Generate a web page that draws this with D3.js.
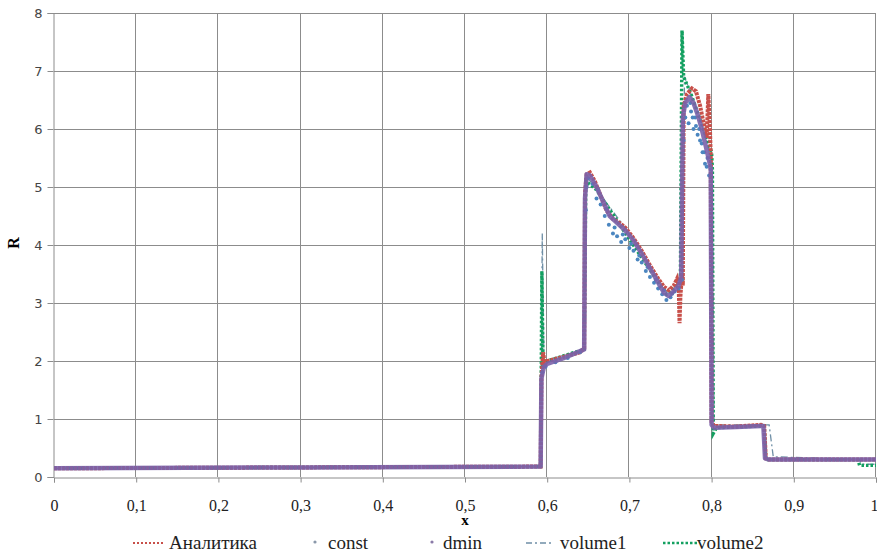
<!DOCTYPE html>
<html>
<head>
<meta charset="utf-8">
<script src="https://cdn.jsdelivr.net/npm/d3@7"></script>
<style>
  body { margin: 0; background: #fff; }
  svg { display: block; }
  .serif { font-family: 'Liberation Serif', 'Times New Roman', 'DejaVu Serif', serif; }
</style>
</head>
<body>
<div id="chart"></div>
<script>
// ---- data ----
var xTicks = [0, 0.1, 0.2, 0.3, 0.4, 0.5, 0.6, 0.7, 0.8, 0.9, 1];
var xTickLabels = ['0', '0,1', '0,2', '0,3', '0,4', '0,5', '0,6', '0,7', '0,8', '0,9', '1'];
var yTicks = [0, 1, 2, 3, 4, 5, 6, 7, 8];

var analytic = [
	[0, 0.15], [0.3, 0.165], [0.592, 0.18], [0.593, 1.7], [0.595, 2.15], [0.597, 1.95], [0.6, 2.0],
	[0.62, 2.07], [0.64, 2.15], [0.645, 2.22], [0.646, 4.9], [0.648, 5.22], [0.652, 5.25], [0.658, 5.1],
	[0.665, 4.85], [0.672, 4.6], [0.68, 4.45], [0.688, 4.38], [0.695, 4.3], [0.705, 4.12], [0.715, 3.9],
	[0.725, 3.65], [0.735, 3.42], [0.742, 3.28], [0.748, 3.22], [0.754, 3.3], [0.758, 3.42], [0.76, 3.3],
	[0.761, 2.65], [0.762, 3.1], [0.764, 3.5], [0.765, 3.3], [0.766, 6.4], [0.77, 6.6], [0.776, 6.7],
	[0.781, 6.65], [0.786, 6.4], [0.791, 6.05], [0.794, 5.85], [0.796, 6.6], [0.798, 6.0], [0.799, 5.5],
	[0.8, 0.95], [0.803, 0.88], [0.83, 0.87], [0.86, 0.9], [0.864, 0.88], [0.866, 0.32], [0.87, 0.3], [1, 0.3]
];

var constPts = [
	[0.594, 1.8], [0.598, 1.9], [0.61, 1.98], [0.625, 2.05], [0.64, 2.15], [0.647, 4.6], [0.648, 5.0],
	[0.65, 5.15], [0.655, 5.05], [0.66, 4.8], [0.665, 4.7], [0.67, 4.5], [0.675, 4.35], [0.68, 4.2],
	[0.685, 4.15], [0.69, 4.05], [0.695, 4.1], [0.7, 3.95], [0.705, 3.9], [0.71, 3.75], [0.715, 3.7],
	[0.72, 3.55], [0.725, 3.45], [0.73, 3.35], [0.735, 3.25], [0.74, 3.15], [0.745, 3.05], [0.75, 3.1],
	[0.755, 3.2], [0.76, 3.25], [0.764, 3.4], [0.766, 5.8], [0.768, 6.2], [0.77, 6.4], [0.772, 6.1],
	[0.775, 6.3], [0.778, 6.0], [0.78, 6.2], [0.783, 5.9], [0.786, 5.8], [0.789, 5.6], [0.792, 5.4],
	[0.795, 5.5], [0.797, 5.2], [0.799, 5.3], [0.662, 4.95], [0.672, 4.62], [0.682, 4.3], [0.692, 4.18],
	[0.702, 4.02], [0.712, 3.82], [0.722, 3.62], [0.732, 3.4], [0.742, 3.22], [0.752, 3.16], [0.774, 6.45],
	[0.777, 6.2], [0.781, 6.05], [0.785, 6.0], [0.788, 5.75], [0.791, 5.6], [0.794, 5.35]
];

var dmin = [
	[0, 0.15], [0.3, 0.165], [0.592, 0.18], [0.593, 1.7], [0.596, 1.9], [0.6, 1.95], [0.62, 2.05],
	[0.645, 2.2], [0.646, 4.8], [0.648, 5.22], [0.652, 5.2], [0.66, 5.0], [0.668, 4.75], [0.676, 4.5],
	[0.685, 4.38], [0.695, 4.25], [0.705, 4.08], [0.715, 3.85], [0.725, 3.6], [0.735, 3.35], [0.742, 3.18],
	[0.748, 3.12], [0.755, 3.22], [0.76, 3.3], [0.763, 3.45], [0.765, 6.2], [0.768, 6.45], [0.773, 6.55],
	[0.778, 6.45], [0.783, 6.25], [0.788, 6.0], [0.793, 5.7], [0.797, 5.45], [0.799, 5.3], [0.8, 0.9],
	[0.803, 0.85], [0.83, 0.86], [0.86, 0.88], [0.863, 0.88], [0.865, 0.32], [0.87, 0.3], [1, 0.3]
];

var volume1 = [
	[0, 0.15], [0.592, 0.18], [0.594, 4.2], [0.596, 2.0], [0.645, 2.2], [0.647, 5.2], [0.7, 4.2],
	[0.745, 3.2], [0.765, 3.4], [0.767, 6.9], [0.775, 6.6], [0.79, 6.0], [0.801, 5.4], [0.803, 0.9],
	[0.87, 0.9], [0.875, 0.35], [0.98, 0.3], [0.982, 0.22], [1, 0.22]
];

var volume2 = [
	[0, 0.15], [0.592, 0.18], [0.5935, 3.55], [0.595, 1.9], [0.6, 2.0], [0.645, 2.2], [0.647, 5.1],
	[0.66, 4.95], [0.7, 4.1], [0.745, 3.15], [0.762, 3.35], [0.764, 7.7], [0.766, 6.9], [0.775, 6.6],
	[0.79, 6.0], [0.8, 5.6], [0.801, 5.3], [0.802, 0.75], [0.806, 0.85], [0.864, 0.88], [0.866, 0.3],
	[0.978, 0.3], [0.98, 0.2], [1, 0.2]
];

// ---- layout ----
var W = 877, H = 554;
var M = { left: 54, right: 1, top: 13, bottom: 77 };

var svg = d3.select('#chart').append('svg').attr('width', W).attr('height', H);

var x = d3.scaleLinear().domain([0, 1]).range([M.left, W - M.right]);
var y = d3.scaleLinear().domain([0, 8]).range([H - M.bottom, M.top]);

// grid
var grid = svg.append('g').attr('stroke', '#8c8c8c').attr('stroke-width', 1);
grid.selectAll('line.h').data(yTicks.slice(1)).enter().append('line')
	.attr('x1', x(0)).attr('x2', x(1))
	.attr('y1', (d) => Math.round(y(d)) + 0.5).attr('y2', (d) => Math.round(y(d)) + 0.5);
grid.selectAll('line.v').data(xTicks.slice(1)).enter().append('line')
	.attr('y1', y(0)).attr('y2', y(8))
	.attr('x1', (d) => Math.round(x(d)) - 0.5).attr('x2', (d) => Math.round(x(d)) - 0.5);

// axes
var xAxis = d3.axisBottom(x).tickValues(xTicks).tickSize(5).tickFormat((d, i) => xTickLabels[i]);
var yAxis = d3.axisLeft(y).tickValues(yTicks).tickSize(6).tickFormat(d3.format('d'));

var gx = svg.append('g').attr('transform', 'translate(0,' + (Math.round(y(0)) + 0.5) + ')').call(xAxis);
gx.attr('font-family', null).attr('font-size', null);
gx.select('.domain').attr('stroke', '#8c8c8c');
gx.selectAll('.tick line').attr('stroke', '#8c8c8c');
gx.selectAll('.tick text').attr('dy', '0').attr('y', 33).attr('class', 'serif')
	.style('font-size', '16px').attr('fill', '#222')
	.attr('dx', (d) => (d === 1 ? -2 : 0));

var gy = svg.append('g').attr('transform', 'translate(' + (Math.round(x(0)) - 0.5) + ',0)').call(yAxis);
gy.select('.domain').attr('stroke', '#8c8c8c');
gy.selectAll('.tick line').attr('stroke', '#8c8c8c');
gy.selectAll('.tick text').attr('x', -11)
	.style('font-family', '"DejaVu Sans", sans-serif').style('font-size', '13px').attr('fill', '#444');

// axis titles
svg.append('text').attr('class', 'serif').attr('x', 465).attr('y', 525).attr('text-anchor', 'middle')
	.style('font-size', '15px').style('font-weight', 'bold')
	.text('x');
svg.append('text').attr('class', 'serif').attr('transform', 'translate(19,243) rotate(-90)').attr('text-anchor', 'middle')
	.style('font-size', '16px').style('font-weight', 'bold')
	.text('R');

// series
var line = d3.line().x((d) => x(d[0])).y((d) => y(d[1]));
var plot = svg.append('g');

plot.append('path').datum(volume1).attr('d', line).attr('fill', 'none')
	.attr('stroke', '#6f8fa6').attr('stroke-width', 1.3).attr('stroke-dasharray', '7,3,2,3');

plot.append('path').datum(volume2).attr('d', line).attr('fill', 'none')
	.attr('stroke', '#13a060').attr('stroke-width', 3.4).attr('stroke-dasharray', '2.5,2');

plot.append('path').datum(analytic).attr('d', line).attr('fill', 'none')
	.attr('stroke', '#c8504a').attr('stroke-width', 4).attr('stroke-dasharray', '3,1');

plot.selectAll('circle.const').data(constPts).enter().append('circle')
	.attr('cx', (d) => x(d[0])).attr('cy', (d) => y(d[1])).attr('r', 2)
	.attr('fill', '#4b86c0');

plot.append('path').datum(dmin).attr('d', line).attr('fill', 'none')
	.attr('stroke', '#7a62aa').attr('stroke-width', 4.5).attr('stroke-linejoin', 'round').attr('opacity', 0.9);

// legend
var lg = svg.append('g').attr('class', 'serif').style('font-size', '19px').attr('fill', '#222');
var ly = 543;
lg.append('line').attr('x1', 133).attr('x2', 163).attr('y1', ly).attr('y2', ly)
	.attr('stroke', '#c8504a').attr('stroke-width', 2).attr('stroke-dasharray', '2,2');
lg.append('text').attr('x', 169).attr('y', 549).text('Аналитика');
lg.append('circle').attr('cx', 315).attr('cy', ly - 1).attr('r', 1.6).attr('fill', '#8a98aa');
lg.append('text').attr('x', 328).attr('y', 549).text('const');
lg.append('circle').attr('cx', 432).attr('cy', ly - 1).attr('r', 1.6).attr('fill', '#8a7aa8');
lg.append('text').attr('x', 443).attr('y', 549).text('dmin');
lg.append('line').attr('x1', 526).attr('x2', 553).attr('y1', ly).attr('y2', ly)
	.attr('stroke', '#6f8fa6').attr('stroke-width', 1.3).attr('stroke-dasharray', '6,3,2,3');
lg.append('text').attr('x', 560).attr('y', 549).text('volume1');
lg.append('line').attr('x1', 663).attr('x2', 697).attr('y1', ly).attr('y2', ly)
	.attr('stroke', '#13a060').attr('stroke-width', 2.5).attr('stroke-dasharray', '2.5,2');
lg.append('text').attr('x', 697).attr('y', 549).text('volume2');
</script>
</body>
</html>
